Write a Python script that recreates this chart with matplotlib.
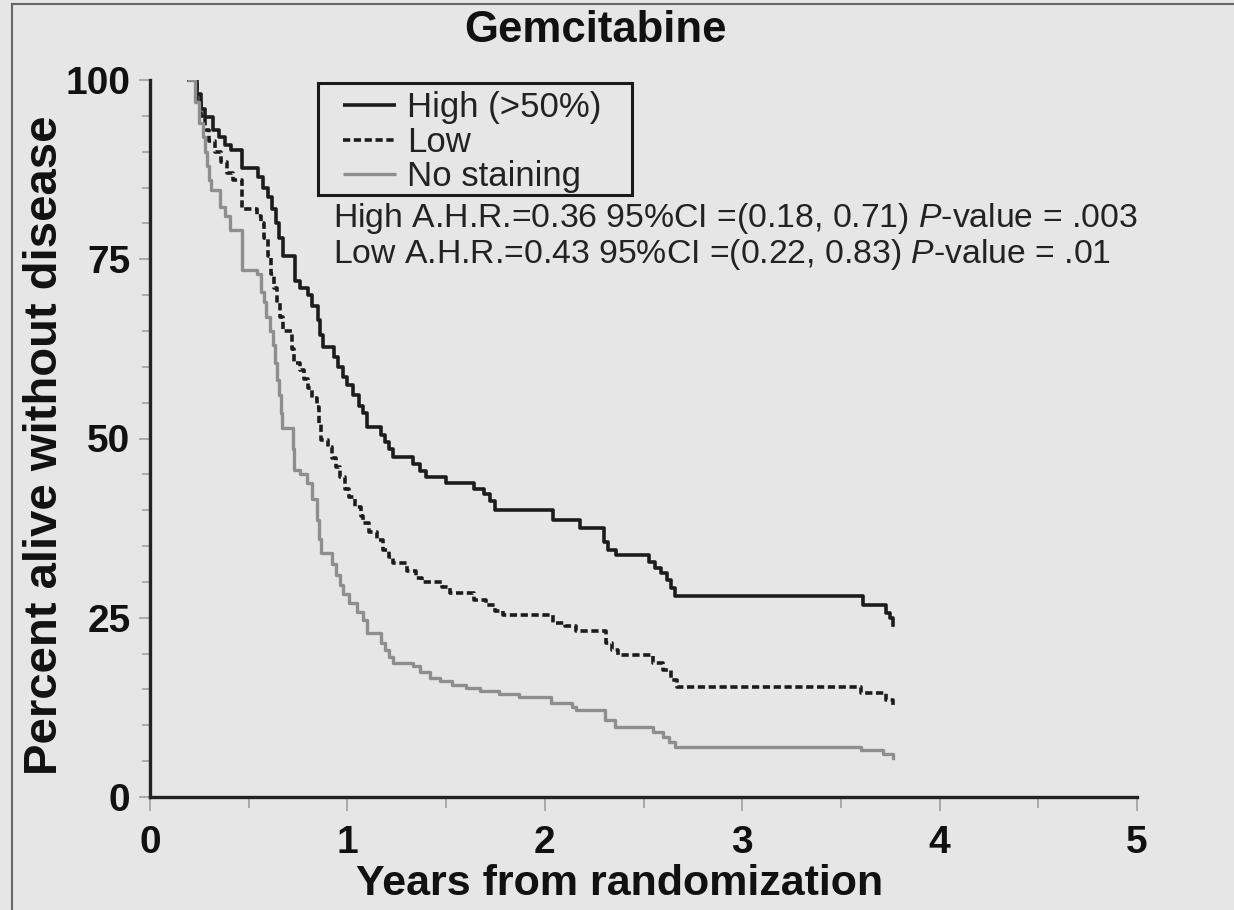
import matplotlib
matplotlib.use("Agg")
import matplotlib.pyplot as plt
from matplotlib.lines import Line2D
from matplotlib.patches import Rectangle
from matplotlib.ticker import MultipleLocator

# ---------------- data ----------------
title = "Gemcitabine"
xlabel = "Years from randomization"
ylabel = "Percent alive without disease"
labels = ["High (>50%)", "Low", "No staining"]
ann_lines = [
    "High A.H.R.=0.36 95%CI =(0.18, 0.71) $\\it{P}$-value = .003",
    "Low A.H.R.=0.43 95%CI =(0.22, 0.83) $\\it{P}$-value = .01",
]
x_ticks = [0, 1, 2, 3, 4, 5]
y_ticks = [0, 25, 50, 75, 100]

high_t = [0.20, 0.24, 0.26, 0.28, 0.32, 0.35, 0.38, 0.41, 0.466, 0.545, 0.57, 0.60,
          0.62, 0.64, 0.655, 0.675, 0.735, 0.76, 0.80, 0.82, 0.85, 0.86, 0.875, 0.93,
          0.95, 0.98, 1.00, 1.03, 1.06, 1.08, 1.10, 1.17, 1.19, 1.21, 1.23, 1.33, 1.37,
          1.40, 1.50, 1.64, 1.69, 1.72, 1.75, 2.04, 2.18, 2.30, 2.32, 2.36, 2.53, 2.56,
          2.59, 2.62, 2.64, 2.66, 3.61, 3.73, 3.75, 3.765]
high_s = [100, 98, 96, 94.9, 93.0, 92, 91, 90.2, 87.7, 86.5, 85, 83.7,
          82, 80, 78, 75.5, 72, 71, 70, 68.5, 66.5, 64.5, 62.8, 61.4,
          60, 58.6, 57.5, 56, 54.5, 53.6, 51.6, 50.5, 49.5, 48.5, 47.4, 46.5, 45.5,
          44.6, 43.8, 43.0, 42.2, 41.3, 40.0, 38.6, 37.5, 35.5, 34.5, 33.8, 32.8, 32,
          31.2, 30.2, 29.2, 28.0, 26.8, 25.7, 25.0, 24.0]

low_t = [0.20, 0.24, 0.26, 0.28, 0.30, 0.33, 0.36, 0.39, 0.42, 0.466, 0.54, 0.56,
         0.58, 0.60, 0.615, 0.63, 0.645, 0.66, 0.675, 0.72, 0.73, 0.76, 0.78, 0.80,
         0.82, 0.845, 0.855, 0.865, 0.90, 0.92, 0.94, 0.965, 0.99, 1.01, 1.04, 1.07,
         1.08, 1.11, 1.15, 1.18, 1.21, 1.23, 1.30, 1.35, 1.38, 1.48, 1.52, 1.64, 1.70,
         1.75, 1.79, 2.04, 2.10, 2.16, 2.31, 2.34, 2.37, 2.55, 2.60, 2.64, 2.67, 3.60,
         3.73, 3.765]
low_s = [100, 97, 95, 93, 91.5, 90, 88.5, 87, 86, 82, 81, 80,
         78, 75.5, 73, 71, 68.9, 67, 65, 62.5, 60.5, 59.5, 58.3, 57,
         55.7, 54.4, 52, 49.8, 48.8, 47.3, 46, 44.6, 43, 41.8, 40.5, 39.2,
         38.2, 37, 35.8, 34.5, 33.5, 32.6, 31.5, 30.5, 30.0, 29.3, 28.5, 27.5, 26.8,
         26.0, 25.4, 24.3, 23.8, 23.1, 21.5, 20.5, 19.8, 18.7, 17.7, 16.3, 15.3, 14.5,
         13.5, 12.4]

none_t = [0.20, 0.23, 0.25, 0.27, 0.28, 0.29, 0.30, 0.31, 0.355, 0.38, 0.405, 0.466,
          0.54, 0.56, 0.575, 0.59, 0.61, 0.625, 0.635, 0.645, 0.655, 0.665, 0.67, 0.725,
          0.73, 0.76, 0.795, 0.82, 0.845, 0.855, 0.865, 0.92, 0.94, 0.96, 0.98, 1.01,
          1.05, 1.08, 1.10, 1.17, 1.19, 1.21, 1.23, 1.33, 1.37, 1.42, 1.47, 1.53, 1.60,
          1.67, 1.77, 1.87, 2.03, 2.14, 2.16, 2.305, 2.356, 2.55, 2.60, 2.63, 2.66, 3.60,
          3.715, 3.765]
none_s = [100, 97, 94, 92, 90, 88, 86, 84.7, 82.3, 81, 79.1, 73.5,
          73.0, 70.5, 69, 67, 65, 63, 60.5, 58.2, 56, 53.5, 51.5, 48.5,
          45.6, 45, 43.8, 41.5, 38.6, 36, 34, 32.5, 31, 29.5, 28.3, 27,
          25.8, 24.7, 22.9, 21.5, 20.5, 19.5, 18.7, 18.3, 17.5, 16.6, 16.2, 15.6, 15.2,
          14.8, 14.3, 14.0, 13.1, 12.6, 12.1, 10.7, 9.8, 9.1, 8.4, 7.7, 7.0, 6.6,
          6.0, 5.4]

# ---------------- style ----------------
BG = "#e6e6e6"
FONT = "Liberation Sans"
plt.rcParams["font.family"] = [FONT, "DejaVu Sans"]
plt.rcParams["mathtext.fontset"] = "custom"
plt.rcParams["mathtext.rm"] = FONT
plt.rcParams["mathtext.it"] = FONT + ":italic"

W, H = 1234, 910
fig = plt.figure(figsize=(W / 100, H / 100), dpi=100, facecolor=BG)

def fx(px):
    return px / W

def fy(py):
    return 1 - py / H

ax = fig.add_axes([fx(150), fy(797), fx(1137) - fx(150), fy(80) - fy(797)])
ax.set_facecolor(BG)

dark = "#1c1c1c"
grey = "#8e8e8e"
DASH = (0, (2.0, 1.0))
styles = [dict(color=dark, lw=2.6, ls="-"),
          dict(color=dark, lw=2.6, ls=DASH),
          dict(color=grey, lw=2.4, ls="-")]
for t, s, st in zip([high_t, low_t, none_t], [high_s, low_s, none_s], styles):
    ax.plot(t, s, drawstyle="steps-post", **st)

ax.set_xlim(0, 5)
ax.set_ylim(0, 100)
ax.set_xticks(x_ticks)
ax.set_yticks(y_ticks)
ax.xaxis.set_minor_locator(MultipleLocator(0.5))
ax.yaxis.set_minor_locator(MultipleLocator(5))
for s in ["top", "right"]:
    ax.spines[s].set_visible(False)
for s in ["left", "bottom"]:
    ax.spines[s].set_linewidth(2.4)
    ax.spines[s].set_color("#222222")
ax.tick_params(which="both", direction="out", color="#a0a0a0", width=1.2)
ax.tick_params(axis="x", which="major", length=10, pad=10)
ax.tick_params(axis="x", which="minor", length=8)
ax.tick_params(axis="y", which="major", length=8, pad=6)
ax.tick_params(axis="y", which="minor", length=6)
for lab in ax.get_xticklabels() + ax.get_yticklabels():
    lab.set_fontsize(28)
    lab.set_fontweight("bold")
    lab.set_color("#111111")

fig.text(fx(620), fy(884), xlabel, ha="center", va="center", fontsize=31,
         fontweight="bold", color="#111111")
fig.text(fx(45), fy(445), ylabel, ha="center", va="center", rotation=90,
         fontsize=34, fontweight="bold", color="#111111")

fig.text(fx(595), fy(30), title, ha="center", va="center", fontsize=31.5,
         fontweight="bold", color="#111111")

# legend box (drawn in figure pixel coordinates)
fig.add_artist(Rectangle((fx(318), fy(195)), fx(632) - fx(318), fy(83) - fy(195),
                         transform=fig.transFigure, facecolor=BG,
                         edgecolor="#1a1a1a", lw=2.2))
for i, (lab, st) in enumerate(zip(labels, styles)):
    ly = 105 + 34.5 * i
    fig.add_artist(Line2D([fx(343), fx(396)], [fy(ly), fy(ly)],
                          transform=fig.transFigure, solid_capstyle="butt", **st))
    fig.text(fx(407), fy(ly + 12), lab, ha="left", va="baseline", fontsize=25,
             color="#222222")

for i, line in enumerate(ann_lines):
    fig.text(fx(333), fy(218 + 37 * i), line, ha="left", va="center",
             fontsize=24.3, color="#222222")

# outer frame
fig.add_artist(Line2D([fx(12), fx(12)], [0, fy(4)], transform=fig.transFigure,
                      color="#666666", lw=1.5))
fig.add_artist(Line2D([fx(12), 1], [fy(4), fy(4)], transform=fig.transFigure,
                      color="#666666", lw=1.5))

fig.savefig("out.png", dpi=100, facecolor=BG)
